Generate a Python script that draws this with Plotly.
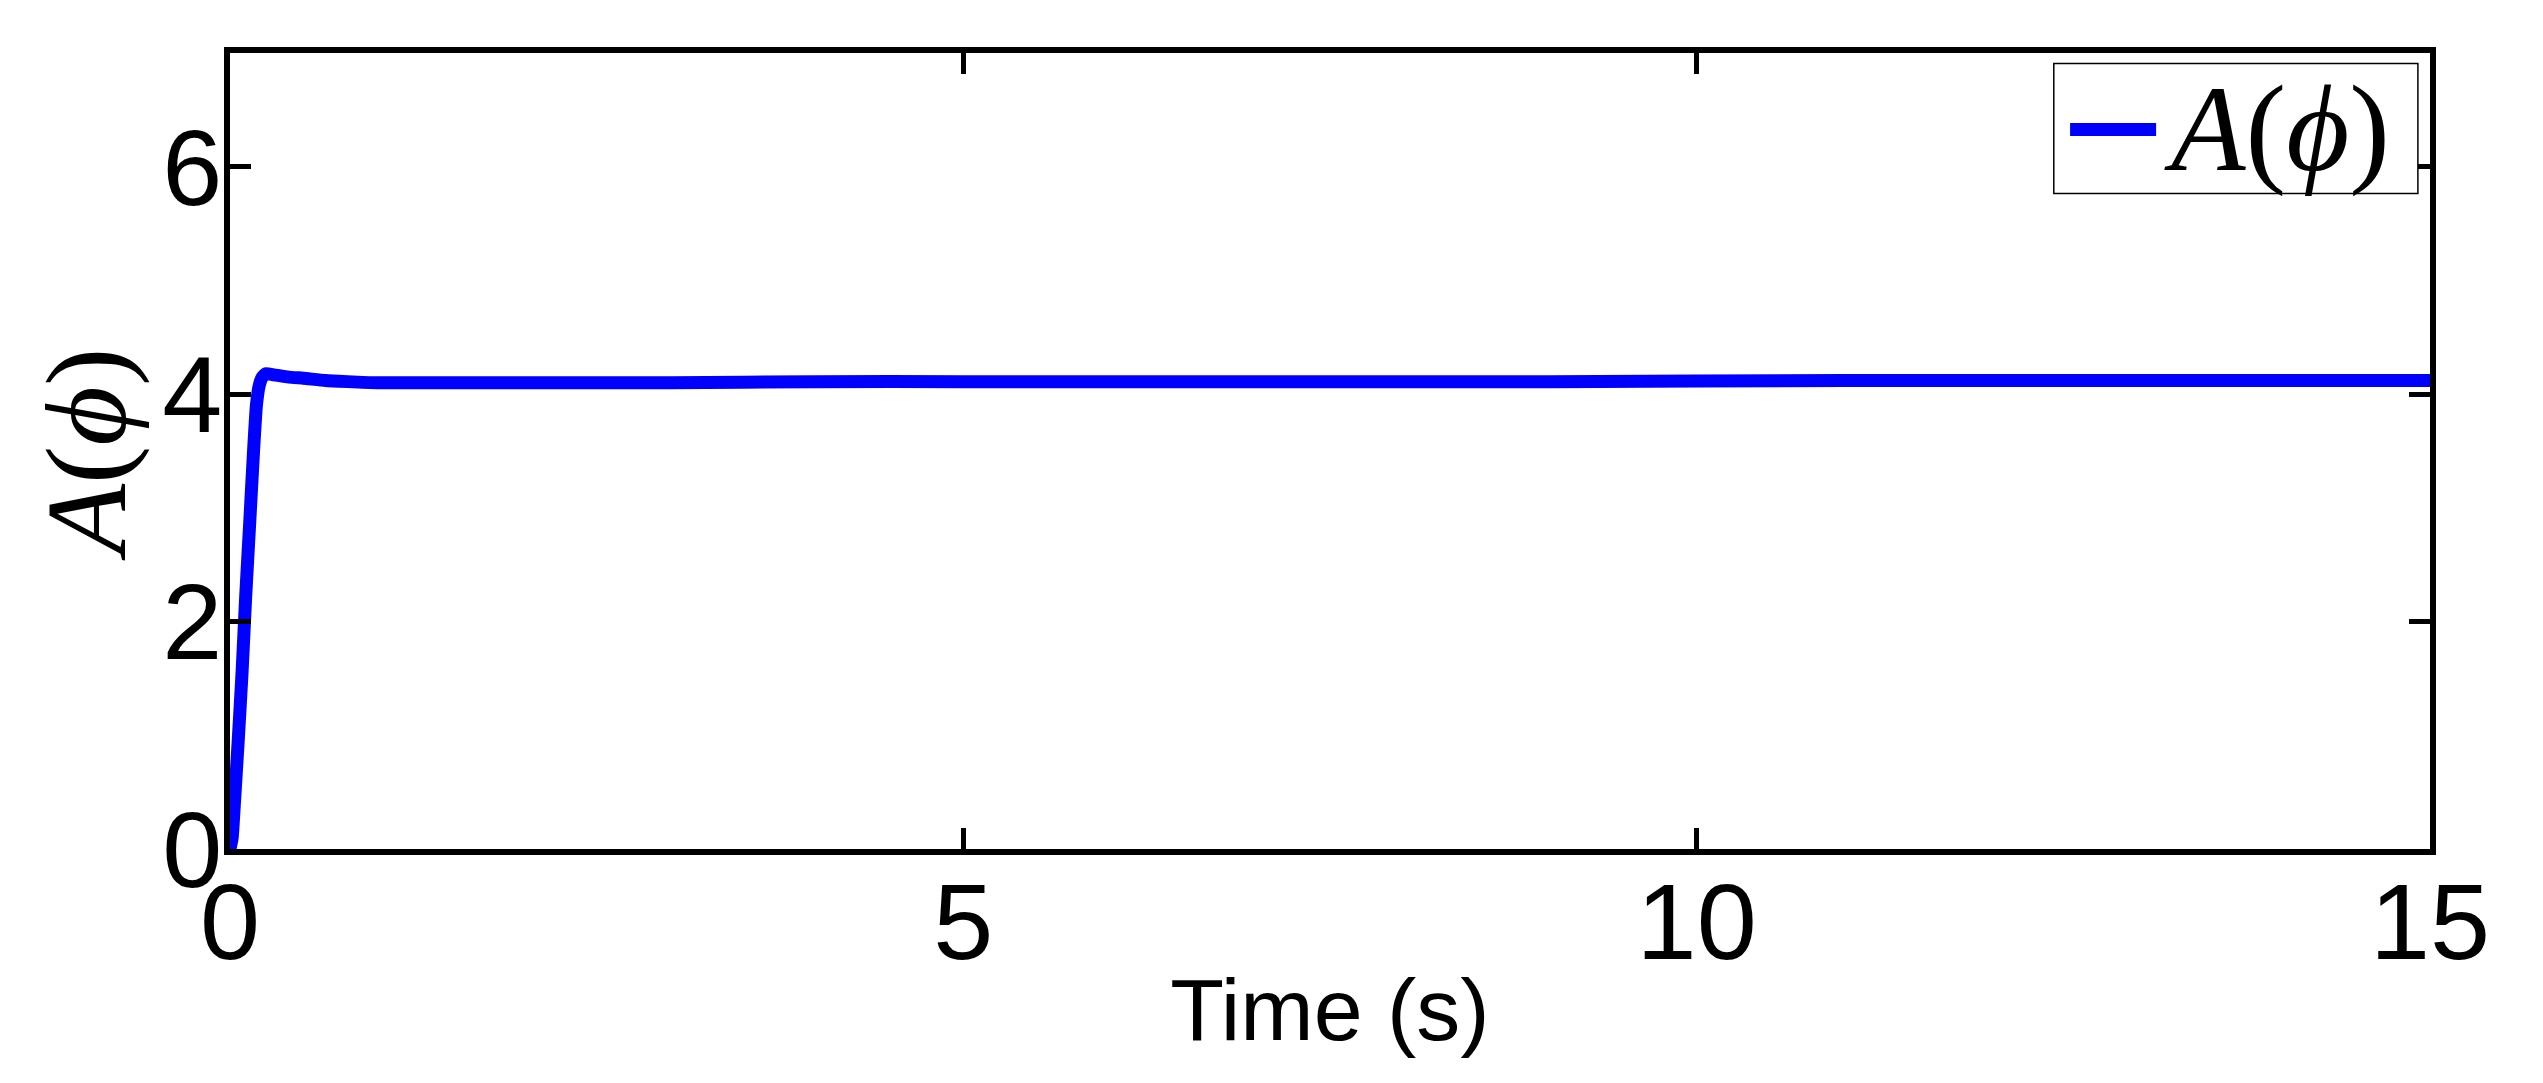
import plotly.graph_objects as go

# values
time_s = [0, 0.015, 0.03, 0.055, 0.083, 0.107, 0.134, 0.161, 0.18, 0.2, 0.22, 0.245,
          0.3, 0.4, 0.5, 0.65, 0.8, 1.0, 1.5, 2.0, 3.0, 4.0, 5.0, 7.0, 9.0, 11.0, 13.0, 15.0]
a_phi = [0, 0.1, 0.4, 0.93, 1.57, 2.22, 2.86, 3.51, 3.9, 4.08, 4.15, 4.18,
         4.17, 4.15, 4.14, 4.12, 4.11, 4.10, 4.10, 4.10, 4.10, 4.11, 4.11, 4.11, 4.11, 4.12, 4.12, 4.12]

x_ticks = [0, 5, 10, 15]
y_ticks = [0, 2, 4, 6]

SANS = "Liberation Sans, Arial, sans-serif"
SERIF = "Liberation Serif, DejaVu Serif, serif"
LABEL = "<i>A</i>(<i>ϕ</i>)"

fig = go.Figure()
fig.add_trace(go.Scatter(x=time_s, y=a_phi, mode="lines",
                         line=dict(color="#0000ff", width=13, shape="spline", smoothing=0.4),
                         name=LABEL, showlegend=False))

axis_style = dict(showline=True, linecolor="black", linewidth=6, mirror="ticks",
                  ticks="inside", ticklen=21, tickwidth=5, tickcolor="black",
                  showgrid=False, zeroline=False,
                  tickfont=dict(family=SANS, size=108, color="black"))

fig.update_xaxes(range=[0, 15], tickvals=x_ticks, ticklabelstandoff=-26, **axis_style,
                 title=dict(text="Time (s)", font=dict(family=SANS, size=88, color="black"),
                            standoff=0))
fig.update_yaxes(range=[0, 7], tickvals=y_ticks, ticklabelstandoff=-20, **axis_style,
                 title=dict(text=LABEL, font=dict(family=SERIF, size=115, color="black"),
                            standoff=0))

# legend box drawn by hand (MATLAB style)
fig.add_shape(type="rect", xref="paper", yref="paper", x0=0.829, x1=0.9945, y0=0.8236, y1=0.9868,
              line=dict(color="black", width=1.5), fillcolor="white", layer="above")
fig.add_shape(type="line", xref="paper", yref="paper", x0=0.8364, x1=0.8755, y0=0.904, y1=0.904,
              line=dict(color="#0000ff", width=13), layer="above")
fig.add_annotation(xref="paper", yref="paper", x=0.878, y=0.904, xanchor="left", yanchor="middle",
                   text=LABEL, showarrow=False, font=dict(family=SERIF, size=122, color="black"))

# page body adds an 8px offset, so margins are shifted to keep the plot where the reference has it
fig.update_layout(width=2543, height=1083, plot_bgcolor="white", paper_bgcolor="white",
                  margin=dict(l=221.5, r=121, t=44.5, b=242, autoexpand=False))

fig.write_html("out.html")
